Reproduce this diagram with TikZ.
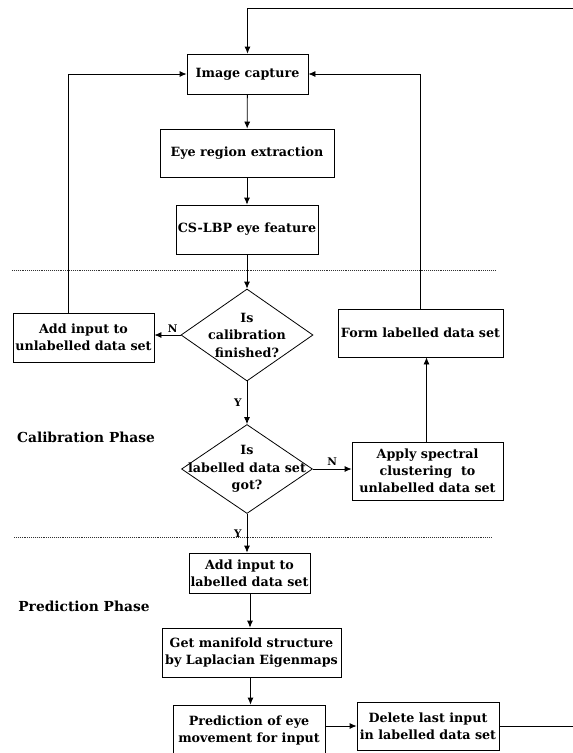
\documentclass[tikz,border=0pt]{standalone}
\usepackage{fontspec}
\setmainfont{DejaVu Serif}
\usetikzlibrary{shapes.geometric,arrows.meta}

\begin{document}
\begin{tikzpicture}[
		x=1pt,y=-1pt,
		line width=0.8pt,
		>={Latex[length=7pt,width=6pt]},
		box/.style={draw,rectangle,align=center,inner sep=0pt,
			font=\fontsize{12.7}{17}\selectfont\bfseries},
		decision/.style={draw,diamond,inner sep=0pt},
		dtext/.style={align=center,inner sep=0pt,
			font=\fontsize{12.7}{17.5}\selectfont\bfseries},
		yn/.style={inner sep=0pt,font=\fontsize{10.5}{12}\selectfont\bfseries},
		phase/.style={inner sep=0pt,font=\fontsize{13.8}{16}\selectfont\bfseries},
		sep/.style={line width=0.6pt,black!80,dash pattern=on 0.8pt off 1.1pt}
		]
		\clip (0,0) rectangle (573,753);
		\fill[white] (0,0) rectangle (573,753);
		
		\node[box,minimum width=121pt,minimum height=40pt] (cap) at (247.5,74) {Image capture};
		\node[box,minimum width=174pt,minimum height=48pt] (ext) at (247,153) {Eye region extraction};
		\node[box,minimum width=142pt,minimum height=49pt] (cs) at (247,229.5) {CS-LBP eye feature};
		
		\node[decision,minimum width=132pt,minimum height=92pt] (cal) at (247,335) {};
		\node[dtext] at (cal) {Is\\calibration\\finished?};
		\node[box,minimum width=141pt,minimum height=49pt] (addun) at (83.5,337.5) {Add input to\\unlabelled data set};
		\node[box,minimum width=165pt,minimum height=48pt] (form) at (420.5,333) {Form labelled data set};
		
		\node[decision,minimum width=131pt,minimum height=89pt] (lab) at (247,469) {};
		\node[dtext] at (lab) {Is\\labelled data set\\got?};
		\node[box,minimum width=151pt,minimum height=58pt] (apply) at (427.5,471) {Apply spectral\\clustering\ \ to\\unlabelled data set};
		
		\node[box,minimum width=121pt,minimum height=40pt] (addl) at (249.5,573) {Add input to\\labelled data set};
		\node[box,minimum width=179pt,minimum height=49pt] (man) at (251.5,652.5) {Get manifold structure\\by Laplacian Eigenmaps};
		\node[box,minimum width=152pt,minimum height=50pt] (pred) at (249,730) {Prediction of eye\\movement for input};
		\node[box,minimum width=142pt,minimum height=48pt] (del) at (428,726) {Delete last input\\in labelled data set};
		
		\node[phase] (calph) at (86,437) {Calibration Phase};
		\node[phase] (predph) at (84,606) {Prediction Phase};
		
		\draw[sep] (12,270.5) -- (495,270.5);
		\draw[sep] (14,537) -- (492,537);
		
		\coordinate (loop) at (590,8);
		\draw[->] (cap) -- (ext);
		\draw[->] (ext) -- (cs);
		\draw[->] (cs) -- (cal);
		\draw[->] (cal.west) -- node[yn,pos=0.3,above=2pt] {N} (cal.west -| addun.east);
		\draw[->] (cal.south) -- node[yn,left=5pt] {Y} (lab.north);
		\draw[->] (lab.east) -- node[yn,pos=0.5,above=3pt] {N} (lab.east -| apply.west);
		\draw[->] (apply.north -| form.south) ++(6,0) -- ([xshift=6pt]form.south);
		\draw[->] ([xshift=-15.5pt]addun.north) |- (cap.west);
		\draw[->] (form.north) |- (cap.east);
		\draw[->] (lab.south) -- node[yn,pos=0.5,left=5pt] {Y} (lab.south |- addl.north);
		\draw[->] ([xshift=0.5pt]addl.south) -- ([xshift=0.5pt]addl.south |- man.north);
		\draw[->] ([xshift=-1pt]man.south) -- ([xshift=-1pt]man.south |- pred.north);
		\draw[->] (pred.east |- del.west) -- (del.west);
		\draw[->] (del.east) -| (loop) -| (cap.north);
	\end{tikzpicture}
\end{document}
